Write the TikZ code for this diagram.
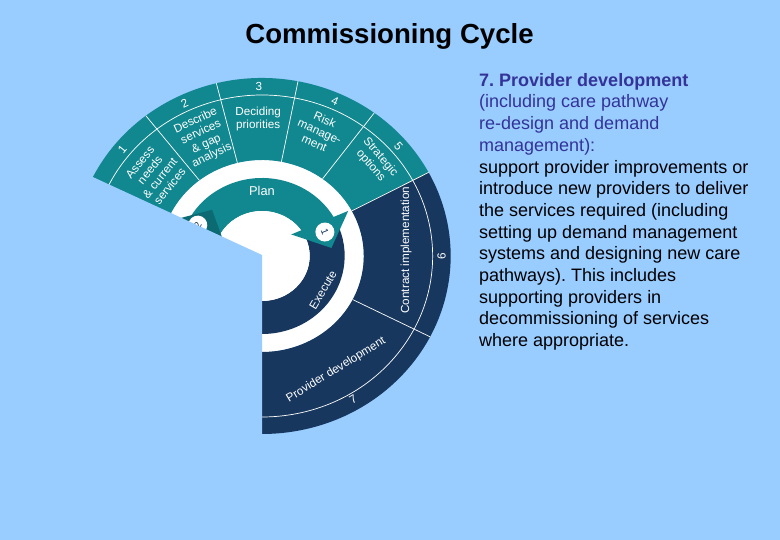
\documentclass[tikz,border=0pt]{standalone}
\usepackage{fontspec}
\setmainfont{Liberation Sans}
\definecolor{bgblue}{HTML}{99CCFF}
\definecolor{wteal}{HTML}{11878F}
\definecolor{wnavy}{HTML}{17375E}
\definecolor{hteal}{HTML}{0B6A72}
\definecolor{tblue}{HTML}{333399}
\frenchspacing
\begin{document}
\begin{tikzpicture}[x=1pt,y=1pt,
  lbl/.style={text=white, font=\fontsize{11.7}{12.8}\selectfont, align=center, inner sep=0pt},
  numlbl/.style={text=white, font=\fontsize{11.7}{13}\selectfont, inner sep=0pt},
  sepline/.style={draw=white, line width=0.7pt},
  badge/.style={circle, fill=white, minimum size=19pt, inner sep=0pt, text=wnavy, font=\fontsize{10}{11}\selectfont}]
\useasboundingbox (0,0) rectangle (780,540);
\fill[bgblue] (0,0) rectangle (780,540);
\node[font=\bfseries\fontsize{27.6}{30}\selectfont, anchor=base, inner sep=0pt] (title) at (389.5,496) {Commissioning Cycle};

\begin{scope}[shift={(262,284)}, xscale=1.06]
  \fill[white] (0,0) circle[radius=96];
  % outer band
  \fill[wteal] (28:96) -- (28:178) arc[start angle=28,end angle=200,radius=178] -- (200:96) arc[start angle=200,end angle=28,radius=96] -- cycle;
  \fill[wnavy] (-130:96) -- (-130:178) arc[start angle=-130,end angle=28,radius=178] -- (28:96) arc[start angle=28,end angle=-130,radius=96] -- cycle;
  \draw[sepline] (-130:161) arc[start angle=-130,end angle=200,radius=161];
  \foreach \a in {128,104,79,53.5,28,-27} \draw[sepline] (\a:96) -- (\a:178);
  % inner band
  \fill[wnavy] (-130:45) -- (-130:78) arc[start angle=-130,end angle=30,radius=78] -- (30:45) arc[start angle=30,end angle=-130,radius=45] -- cycle;
  \fill[wteal] (30:45) -- (30:78) arc[start angle=30,end angle=200,radius=78] -- (200:45) arc[start angle=200,end angle=30,radius=45] -- cycle;
  \fill[white] (0,0) circle[radius=45];
  % arrow heads
  \fill[wteal] (38:35) -- (29:93) -- (7:66) -- cycle;
  \fill[hteal] (135.6:66) -- (157.6:93) -- (166.6:35) -- cycle;
  \node[badge, rotate=-68] (b1) at (22:64) {1};
  \node[badge, rotate=63] (b2) at (153:68) {2};
  % segment labels
  \node[lbl, rotate=51] (s1) at (141:130) {Assess\\needs\\\& current\\services};
  \node[lbl, rotate=25] (s2) at (115:130) {Describe\\services\\\& gap\\analysis};
  \node[lbl] (s3) at (91.5:137) {Deciding\\priorities};
  \node[lbl, rotate=-24] (s4) at (66.4:136) {Risk\\manage-\\ment};
  \node[lbl, rotate=-49] (s5) at (41.5:143) {Strategic\\options};
  \node[lbl, rotate=90] (s6) at (2.5:136) {Contract implementation};
  \node[lbl, rotate=31.5] (s7) at (-58.5:133.7) {Provider development};
  % numbers
  \node[numlbl, rotate=51] (n1) at (141:169.5) {1};
  \node[numlbl, rotate=25] (n2) at (115.5:169.5) {2};
  \node[numlbl] (n3) at (91:169.5) {3};
  \node[numlbl, rotate=-24] (n4) at (66:169.5) {4};
  \node[numlbl, rotate=-49] (n5) at (40.5:169.5) {5};
  \node[numlbl, rotate=90] (n6) at (0:169.5) {6};
  \node[numlbl, rotate=31] (n7) at (-59:167) {7};
  % inner labels
  \node[lbl, font=\fontsize{12.8}{13}\selectfont] (plan) at (90:65) {Plan};
  \node[lbl, rotate=59.4] (exec) at (-30.6:66.8) {Execute};
\end{scope}

% cover
\fill[bgblue] (262,285) -- (0,405.8) -- (0,0) -- (262,0) -- cycle;

\node[anchor=north west, align=left, inner sep=0pt, font=\fontsize{18}{21.7}\selectfont] (desc) at (479,467) {%
\textcolor{tblue}{\textbf{7. Provider development}}\\
\textcolor{tblue}{(including care pathway}\\
\textcolor{tblue}{re-design and demand}\\
\textcolor{tblue}{management):}\\
support provider improvements or\\
introduce new providers to deliver\\
the services required (including\\
setting up demand management\\
systems and designing new care\\
pathways). This includes\\
supporting providers in\\
decommissioning of services\\
where appropriate.};
\end{tikzpicture}
\end{document}
